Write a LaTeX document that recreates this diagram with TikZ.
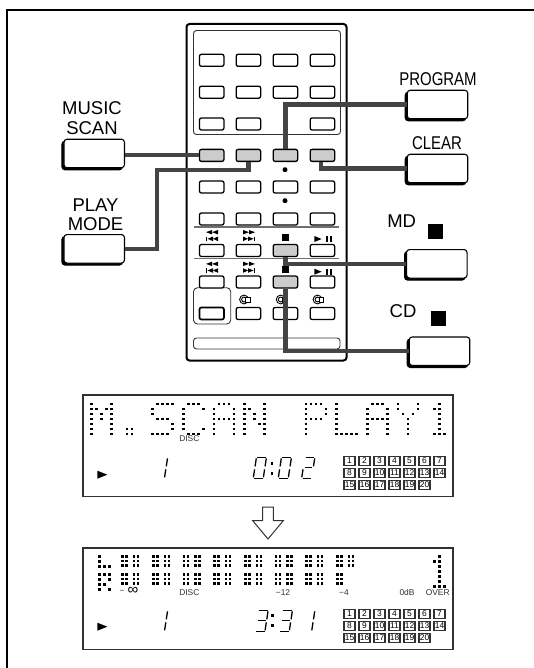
\documentclass[tikz,border=0pt]{standalone}
\usepackage{fontspec}
\setmainfont{Liberation Sans}
\usetikzlibrary{shadows}
\definecolor{wiregray}{RGB}{68, 68, 68}
\definecolor{keygray}{RGB}{204, 204, 204}
\definecolor{framegray}{RGB}{50, 50, 50}

% dot patterns, row/columns
\def\lcdM{0/{0,4},1/{0,1,3,4},2/{0,2,4},3/{0,2,4},4/{0,4},5/{0,4},6/{0,4}}
\def\lcdDot{5/{1,2},6/{1,2}}
\def\lcdS{0/{1,2,3,4},1/{0},2/{0},3/{1,2,3},4/{4},5/{4},6/{0,1,2,3}}
\def\lcdC{0/{1,2,3},1/{0,4},2/{0},3/{0},4/{0},5/{0,4},6/{1,2,3}}
\def\lcdA{0/{1,2,3},1/{0,4},2/{0,4},3/{0,1,2,3,4},4/{0,4},5/{0,4},6/{0,4}}
\def\lcdN{0/{0,4},1/{0,1,4},2/{0,2,4},3/{0,2,4},4/{0,3,4},5/{0,4},6/{0,4}}
\def\lcdP{0/{0,1,2,3},1/{0,4},2/{0,4},3/{0,1,2,3},4/{0},5/{0},6/{0}}
\def\lcdL{0/{0},1/{0},2/{0},3/{0},4/{0},5/{0},6/{0,1,2,3,4}}
\def\lcdY{0/{0,4},1/{0,4},2/{1,3},3/{2},4/{2},5/{2},6/{2}}
\def\lcdOne{0/{2},1/{1,2},2/{2},3/{2},4/{2},5/{2},6/{1,2,3}}
\def\lcdBar{0/{0,.8,2.3,3.1},.9/{0,.8,2.3,3.1},1.8/{0,.8,2.3,3.1}}
\def\lcdHalf{0/{0,.8},.9/{0,.8},1.8/{0,.8}}
\def\lcdLeft{0/{0},1/{0},2/{0,1,2}}
\def\lcdRight{0/{0,1,2},1/{0,2},2/{0,1},3/{0,2}}
\newcommand{\lcdchar}[3]{%
  \expandafter\let\expandafter\lcdrows\csname lcd#3\endcsname
  \foreach \r/\cols in \lcdrows {\foreach \c in \cols {\fill (#1+\c*5,#2+\r*5) rectangle +(2.5,2.5);}}}

% seven segment digits
\def\sega{(4,-21)--(12.5,-21)}
\def\segb{(13,-20)--(11.8,-12)}
\def\segc{(11.3,-9)--(10.1,-1)}
\def\segd{(1,0)--(9.5,0)}
\def\sege{(1.3,-9)--(.1,-1)}
\def\segf{(3,-20)--(1.8,-12)}
\def\segg{(3,-10.5)--(10.5,-10.5)}
\newcommand{\segdigit}[3]{%
  \begin{scope}[shift={(#1,#2)}]
    \foreach \s in {#3} {\draw[line width=1.3pt] \csname seg\s\endcsname;}
  \end{scope}}

% numbered disc boxes
\newcommand{\discgrid}[2]{%
  \foreach \n in {1,...,20} {
    \pgfmathtruncatemacro{\row}{(\n-1)/7}
    \pgfmathtruncatemacro{\col}{\n-1-7*\row}
    \node (#1\n) [discbox] at (349.5+15*\col,#2+12*\row) {\n};
  }}

% transport symbols
\newcommand{\rewsym}[2]{%
  \fill (#1+6,#2) -- ++(0,4.4) -- ++(-6,-2.2) -- cycle;
  \fill (#1+12,#2) -- ++(0,4.4) -- ++(-6,-2.2) -- cycle;
  \fill (#1,#2+6.5) rectangle +(1.2,4.6);
  \fill (#1+7,#2+6.5) -- ++(0,4.6) -- ++(-5.5,-2.3) -- cycle;
  \fill (#1+12,#2+6.5) -- ++(0,4.6) -- ++(-5,-2.3) -- cycle;}
\newcommand{\fwdsym}[2]{%
  \fill (#1,#2) -- ++(0,4.4) -- ++(6,-2.2) -- cycle;
  \fill (#1+6,#2) -- ++(0,4.4) -- ++(6,-2.2) -- cycle;
  \fill (#1,#2+6.5) -- ++(0,4.6) -- ++(5,-2.3) -- cycle;
  \fill (#1+5,#2+6.5) -- ++(0,4.6) -- ++(5.5,-2.3) -- cycle;
  \fill (#1+10.8,#2+6.5) rectangle +(1.2,4.6);}
\newcommand{\playsym}[2]{%
  \fill (#1,#2) -- ++(0,6) -- ++(7.4,-3) -- cycle;
  \fill (#1+11.7,#2) rectangle +(1.5,6);
  \fill (#1+15.7,#2) rectangle +(1.5,6);}
\newcommand{\repsym}[2]{%
  \draw[line width=.9pt] (#1,#2) circle (4.4);
  \draw[line width=.9pt] (#1,#2) circle (2.4);
  \draw[line width=.9pt, fill=white] (#1+1.5,#2-2.5) rectangle +(4.5,5);}

\begin{document}
\begin{tikzpicture}[x=1pt, y=-1pt]
    \tikzstyle{remkey} = [rectangle, rounded corners=2pt, minimum width=24.5pt, minimum height=12pt, inner sep=0pt, draw=black, line width=1.3pt, fill=white]
    \tikzstyle{grkey} = [remkey, fill=keygray]
    \tikzstyle{panelkey} = [rectangle, rounded corners=3pt, minimum width=60.5pt, minimum height=28.5pt, inner sep=0pt, draw=black, line width=1.1pt, fill=white, copy shadow={shadow xshift=-2pt, shadow yshift=-2pt, fill=black, draw=black}]
    \tikzstyle{keylabel} = [inner sep=0pt, font=\fontsize{18.5}{19.5}\selectfont]
    \tikzstyle{narrowlabel} = [keylabel, xscale=.81]
    \tikzstyle{tinylabel} = [inner sep=0pt, text=framegray, font=\fontsize{8.4}{9}\selectfont]
    \tikzstyle{lcdframe} = [rectangle, minimum width=370pt, minimum height=101.7pt, inner sep=0pt, draw=framegray, line width=1.1pt]
    \tikzstyle{discbox} = [rectangle, minimum width=11pt, minimum height=9pt, inner sep=0pt, draw=framegray, line width=1.2pt, text=black, font=\fontsize{8.4}{8.4}\selectfont]
    \tikzstyle{wire} = [draw=wiregray, line width=4.2pt]

    \useasboundingbox (0,0) rectangle (534,668);
    \draw[line width=2pt] (7,668) -- (7,10) -- (534,10);

    % remote body
    \draw[line width=2pt, rounded corners=3pt] (186.5,24) rectangle (346.5,360.5);
    \draw[draw=framegray, line width=.9pt, rounded corners=3pt] (193.5,30.5) rectangle (340.5,134.5);
    \draw[draw=framegray, line width=.9pt, rounded corners=3pt] (193.5,338) rectangle (340,349);
    \draw[draw=framegray, line width=.9pt, rounded corners=4pt] (193.5,287.7) rectangle (230.7,324);
    \draw[draw=framegray!70, line width=1.2pt] (194,227) -- (339,227);
    \draw[draw=framegray!70, line width=1.2pt] (194,258.7) -- (339,258.7);

    \foreach \r/\y in {a/60.3,b/92.2,e/187,f/219} {
      \foreach \c/\x in {1/211.7,2/248.4,3/285.4,4/322.4} {
        \node (key\r\c) [remkey] at (\x,\y) {};
      }
    }
    \foreach \r/\y in {c/124,g/250.5,h/282} {
      \foreach \c/\x in {1/211.7,2/248.4,4/322.4} {
        \node (key\r\c) [remkey] at (\x,\y) {};
      }
    }
    \foreach \c/\x in {2/248.4,3/285.4,4/322.4} {
      \node (keyi\c) [remkey] at (\x,313.5) {};
    }
    \foreach \c/\x in {1/211.7,2/248.4,3/285.4,4/322.4} {
      \node (keyd\c) [grkey] at (\x,155.4) {};
    }
    \node (keyg3) [grkey] at (285.4,250.5) {};
    \node (keyh3) [grkey] at (285.4,282) {};
    \node (keyi1) [remkey, line width=1.7pt] at (211.7,313.5) {};

    \fill (285,169.7) circle (2.5);
    \fill (285,200.7) circle (2.5);

    \rewsym{206}{230}
    \fwdsym{243}{230}
    \fill (282.3,234) rectangle +(7,7);
    \playsym{314.3}{236}
    \rewsym{206}{261.7}
    \fwdsym{243}{261.7}
    \fill (282.3,266) rectangle +(7,6.7);
    \playsym{314.3}{268.7}
    \repsym{244}{299.5}
    \repsym{280.7}{299.5}
    \repsym{317.5}{299.5}

    % front panel keys
    \node (scankey) [panelkey] at (94.2,153.5) {};
    \node (modekey) [panelkey] at (94.2,248.8) {};
    \node (progkey) [panelkey] at (437.5,104.5) {};
    \node (clearkey) [panelkey] at (437.5,168.5) {};
    \node (mdkey) [panelkey] at (436.8,263.8) {};
    \node (cdkey) [panelkey] at (439.5,351.2) {};

    \node (scanlabel) [keylabel, align=center] at (92,118) {MUSIC\\SCAN};
    \node (modelabel) [keylabel, align=center] at (95.5,214.5) {PLAY\\MODE};
    \node (proglabel) [narrowlabel] at (438,79) {PROGRAM};
    \node (clearlabel) [narrowlabel] at (437,143) {CLEAR};
    \node (mdlabel) [keylabel] at (401.7,220.7) {MD};
    \node (cdlabel) [keylabel] at (403,311.5) {CD};
    \node (mdstop) [rectangle, fill=black, minimum size=15pt, inner sep=0pt] at (435.5,231.5) {};
    \node (cdstop) [rectangle, fill=black, minimum size=15pt, inner sep=0pt] at (438.5,318.5) {};

    % wires from panel keys to remote keys
    \coordinate (modebend) at (156.7,169.7);
    \draw [wire] (scankey.east |- keyd1.west) -- (keyd1.west);
    \draw [wire] (keyd2.south) |- (modebend) |- (modekey.east);
    \draw [wire] (keyd3.north) |- (progkey.west);
    \draw [wire] ([xshift=-1.4pt]keyd4.south) |- (clearkey.west);
    \draw [wire] (keyg3.south) |- (mdkey.west);
    \draw [wire] (keyh3.south) |- (cdkey.west);

    % first display
    \node (scanlcd) [lcdframe] at (268,445.8) {};
    \foreach \k/\ch in {0/M,1/Dot,2/S,3/C,4/A,5/N,7/P,8/L,9/A,10/Y} {
      \lcdchar{90+30.67*\k}{402.7}{\ch}
    }
    \lcdchar{428}{402.7}{One}
    \node (scandisc) [tinylabel] at (189.3,439) {DISC};
    \fill (97.3,470.7) -- ++(0,8) -- ++(10,-4) -- cycle;
    \segdigit{154.5}{478.3}{b,c}
    \segdigit{253.3}{478.3}{a,b,c,d,e,f}
    \fill (270.5,462) rectangle +(2.5,2.5);
    \fill (270.5,472) rectangle +(2.5,2.5);
    \segdigit{278.3}{478.3}{a,b,c,d,e,f}
    \segdigit{301.7}{478.3}{a,b,g,e,d}
    \discgrid{scan}{461}

    % down arrow
    \draw[line width=1pt, draw=framegray, fill=white] (262.7,507) -- (273.3,507) -- (273.3,520.7) -- (283.3,520.7) -- (268,539) -- (252.7,520.7) -- (262.7,520.7) -- cycle;

    % second display
    \node (timelcd) [lcdframe] at (268,598.8) {};
    \lcdchar{98}{555}{Left}
    \lcdchar{98}{573}{Right}
    \foreach \k in {1,...,8} {\lcdchar{90.8+30.67*\k}{555}{Bar}}
    \foreach \k in {1,...,7} {\lcdchar{90.8+30.67*\k}{573}{Bar}}
    \lcdchar{336.2}{573}{Half}
    \lcdchar{428}{555}{One}
    \node (dashinf) [tinylabel] at (122,591.5) {−};
    \node (infmark) [inner sep=0pt, font=\fontsize{15}{15}\selectfont] at (133,591) {∞};
    \node (timedisc) [tinylabel] at (189.3,592.3) {DISC};
    \node (levelA) [tinylabel] at (283,592.3) {−12};
    \node (levelB) [tinylabel] at (344,592.3) {−4};
    \node (levelC) [tinylabel] at (407,592.3) {0dB};
    \node (levelD) [tinylabel] at (437.7,592.3) {OVER};
    \fill (97.3,622.7) -- ++(0,8) -- ++(10,-4) -- cycle;
    \segdigit{154.5}{631.3}{b,c}
    \segdigit{255}{631.3}{a,b,g,c,d}
    \fill (271,614) rectangle +(2.5,2.5);
    \fill (271,624) rectangle +(2.5,2.5);
    \segdigit{279.3}{631.3}{a,b,g,c,d}
    \segdigit{301.7}{631.3}{b,c}
    \discgrid{time}{614}
\end{tikzpicture}
\end{document}
